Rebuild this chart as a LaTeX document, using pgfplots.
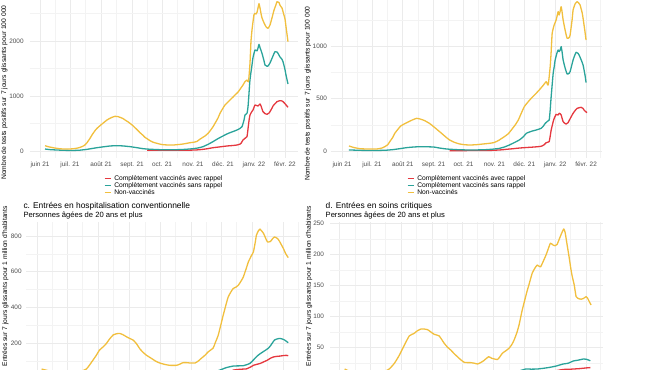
\documentclass[border=0pt]{standalone}
\usepackage{fontspec}
\setmainfont{Liberation Sans}
\usepackage{pgfplots}
\pgfplotsset{compat=1.18}
\definecolor{cred}{HTML}{E5383F}
\definecolor{cteal}{HTML}{2AA39A}
\definecolor{cyel}{HTML}{F1BF3E}
\definecolor{gridc}{HTML}{EBEBEB}
\definecolor{tickc}{HTML}{4D4D4D}
\newcommand{\legfont}{\fontsize{6.7}{7}\selectfont}
\pgfplotsset{
  panel/.style={
    scale only axis, no markers,
    axis line style={draw=none}, tick style={draw=none},
    major tick length=0pt, minor tick length=0pt,
    grid=both,
    major grid style={color=gridc, line width=0.55pt},
    minor grid style={color=gridc!60, line width=0.35pt},
    xtick={0,30,61,92,122,153,183,214,245},
    minor xtick={15,45,76,107,137,168,198,229,259},
    tick label style={font=\fontsize{6.4}{7}\selectfont, text=tickc},
    /pgf/number format/assume math mode=true,
    /pgf/number format/1000 sep={},
    every axis plot/.append style={line width=1.3pt, smooth, tension=0.3, line join=round},
  },
  toplab/.style={xticklabels={juin 21,juil. 21,août 21,sept. 21,oct. 21,nov. 21,déc. 21,janv. 22,févr. 22}},
  leg/.style={
    legend cell align=left,
    legend image code/.code={\draw[##1, line width=1.3pt] (0pt,0pt) -- (6.5pt,0pt);},
    legend style={at={(#1,-0.1037)}, anchor=north west, draw=none, fill=none,
      inner sep=0pt, outer sep=0pt, font=\legfont,
      row sep=0pt, column sep=2.1pt,
      nodes={font=\legfont, scale=1, inner sep=0.35pt, text height=4.9pt, text depth=1.4pt}},
  },
}
\begin{document}
\begin{tikzpicture}[x=1pt,y=1pt]
\useasboundingbox (0,0) rectangle (657,370);
\clip (0,0) rectangle (657,370);

% ---------- a. top-left ----------
\begin{axis}[panel, toplab, leg=0.2775,
  at={(29.5pt,212pt)}, anchor=south west, width=268.5pt, height=164pt,
  xmin=-10.5, xmax=258, ymin=-127.3, ymax=2854.5,
  ytick={0,1000,2000}, minor ytick={500,1500,2500},
  yticklabel style={xshift=-2.4pt}]
\addplot[cred] coordinates {(107,12) (127,12) (147,14) (155,18) (160,24) (167,40) (173,60) (180,75) (187,91) (193,100) (197,109) (200,125) (201,139) (203,200) (205,230) (207,261) (208,400) (209,550) (210,655) (212,720) (213,745) (215,836) (217,825) (218,818) (220,855) (221,820) (223,715) (225,680) (227,667) (229,690) (230,715) (232,780) (233,818) (235,860) (237,897) (240,915) (242,910) (243,897) (245,860) (248,794)};
\addlegendentry{\legfont Complètement vaccinés avec rappel}
\addplot[cteal] coordinates {(5,36) (10,25) (17,18) (25,12) (33,10) (40,15) (47,30) (52,45) (57,60) (63,75) (70,91) (77,97) (83,92) (90,79) (97,60) (103,42) (110,32) (120,24) (130,22) (137,24) (145,30) (153,42) (158,55) (163,79) (168,120) (173,170) (178,225) (183,273) (187,310) (190,333) (194,360) (197,382) (200,410) (202,442) (204,560) (205,655) (207,685) (208,800) (209,1048) (210,1300) (212,1564) (213,1700) (215,1836) (217,1820) (218,1870) (219,1939) (220,1880) (222,1776) (224,1640) (225,1564) (227,1540) (228,1545) (230,1600) (232,1685) (234,1770) (235,1806) (237,1800) (238,1776) (240,1710) (242,1667) (243,1624) (245,1480) (246,1380) (248,1218)};
\addlegendentry{\legfont Complètement vaccinés sans rappel}
\addplot[cyel] coordinates {(5,96) (9,75) (13,60) (18,45) (23,36) (28,36) (33,40) (38,55) (42,79) (45,110) (47,151) (50,230) (52,291) (55,370) (57,412) (60,460) (62,491) (65,535) (67,564) (70,595) (72,612) (75,630) (78,625) (80,612) (83,590) (85,564) (88,530) (90,503) (93,460) (95,424) (98,370) (100,333) (103,285) (105,248) (108,212) (110,188) (113,160) (117,139) (120,125) (123,115) (127,110) (130,109) (134,110) (137,115) (140,120) (143,127) (147,140) (150,151) (154,160) (157,175) (160,215) (163,250) (165,273) (168,320) (170,364) (173,440) (175,503) (178,600) (180,685) (183,780) (185,836) (188,890) (190,927) (193,980) (195,1018) (198,1070) (200,1121) (203,1200) (205,1261) (207,1290) (208.5,1260) (210,1600) (211,2000) (212,2200) (213,2350) (214,2480) (215,2503) (216,2490) (217,2520) (218,2600) (219,2680) (220,2600) (221,2500) (222,2420) (224,2330) (226,2260) (228,2230) (230,2290) (232,2420) (234,2560) (236,2660) (237,2715) (239,2700) (240,2650) (242,2600) (243,2535) (245,2400) (246,2260) (248,1987)};
\addlegendentry{\legfont Non-vaccinés}
\end{axis}

% ---------- b. top-right ----------
\begin{axis}[panel, toplab, leg=0.2818,
  at={(330.5pt,212pt)}, anchor=south west, width=271.5pt, height=164pt,
  xmin=-11.5, xmax=261, ymin=-66.7, ymax=1495,
  ytick={0,500,1000}, minor ytick={250,750,1250}]
\addplot[cred] coordinates {(108,3) (130,4) (150,6) (160,11) (165,16) (172,22) (178,28) (185,33) (193,38) (200,45) (203,60) (205,79) (207,85) (208,89) (209,140) (210,200) (212,279) (213,310) (215,349) (217,343) (218,359) (219,355) (220,343) (222,279) (224,262) (225,257) (227,270) (228,289) (230,325) (232,359) (234,385) (236,406) (238,412) (240,416) (242,405) (243,390) (245,372) (246,365)};
\addlegendentry{\legfont Complètement vaccinés avec rappel}
\addplot[cteal] coordinates {(7,10) (20,6) (35,5) (45,8) (52,14) (58,22) (65,32) (72,38) (78,41) (85,40) (92,38) (98,28) (105,19) (115,13) (125,10) (135,10) (145,13) (152,18) (158,25) (163,38) (168,57) (173,80) (178,105) (182,135) (185,168) (188,180) (191,190) (195,200) (200,216) (202,235) (204,263) (206,280) (208,295) (209,390) (210,520) (212,740) (213,800) (214,867) (216,940) (217,962) (218,946) (219,960) (220,994) (221,940) (222,867) (224,790) (226,733) (228,740) (229,756) (231,830) (232,867) (234,920) (235,940) (237,930) (238,914) (240,870) (242,819) (244,720) (245,651)};
\addlegendentry{\legfont Complètement vaccinés sans rappel}
\addplot[cyel] coordinates {(7,48) (12,33) (18,22) (25,19) (35,19) (40,28) (43,41) (46,60) (48,89) (51,130) (53,168) (56,205) (59,238) (63,260) (67,279) (71,297) (75,311) (79,303) (83,289) (88,262) (92,232) (96,200) (100,168) (104,135) (108,105) (113,82) (118,67) (123,60) (128,57) (135,60) (142,67) (148,73) (152,79) (155,90) (158,105) (160,118) (163,136) (167,165) (170,200) (174,250) (177,295) (180,360) (183,422) (187,470) (190,502) (194,540) (198,581) (202,625) (205,660) (207,629) (209,803) (210,950) (211,1121) (213,1200) (215,1248) (217,1327) (218,1295) (219,1330) (220,1374) (221,1320) (222,1248) (224,1150) (226,1073) (228,1080) (229,1105) (231,1250) (232,1343) (234,1400) (236,1422) (238,1405) (239,1390) (241,1320) (242,1264) (244,1130) (245,1057)};
\addlegendentry{\legfont Non-vaccinés}
\end{axis}

% ---------- c. bottom-left ----------
\begin{axis}[panel, xticklabels={},
  at={(26pt,-15pt)}, anchor=south west, width=274pt, height=163pt,
  xmin=-10.93, xmax=261.3, ymin=-35.3, ymax=878.9,
  ytick={200,400,600,800}, extra y ticks={0}, extra y tick labels={},
  minor ytick={100,300,500,700},
  yticklabel style={xshift=-0.9pt}]
\addplot[cred] coordinates {(100,4) (130,5) (160,8) (175,15) (185,25) (190,35) (195,48) (200,52) (205,54) (208,55) (212,65) (215,75) (218,80) (222,86) (225,94) (228.6,103) (232,115) (235,122) (238,125) (241.6,127) (245,130) (247.6,131) (249.6,129)};
\addplot[cteal] coordinates {(4.6,20) (20,15) (40,14) (60,18) (80,22) (100,20) (120,16) (140,17) (155,22) (165,28) (172,35) (180,45) (188,62) (195,71) (200,72) (205,73) (208,78) (211.6,86) (215,105) (218,123) (220,133) (223,145) (226,156) (229.6,170) (232,185) (234,202) (236,217) (238,222) (241,226) (243,224) (246,217) (249.6,202)};
\addplot[cyel] coordinates {(4.6,54) (9.6,47) (15,40) (22,35) (30,33) (38,35) (44,42) (49,54) (52,75) (55.6,104) (59,132) (62,160) (66,180) (69,198) (72,222) (75.6,245) (79,252) (82,254) (85,248) (89,235) (92,226) (95.7,216) (99,195) (102,169) (105,150) (108.6,132) (112,120) (115,109) (118,98) (122,88) (127,80) (132,75) (138.6,75) (142,82) (145,90) (149,90) (152,88) (157,88) (160,98) (163,113) (167,132) (170,150) (175,172) (177,200) (180,243) (183,310) (185,356) (188,420) (190,459) (193,490) (195,506) (198,515) (200,524) (203,550) (205,571) (208,620) (210,655) (213,690) (215,711) (217,770) (218,805) (220,830) (221.6,839) (223,830) (225,816) (227,790) (229,767) (232,770) (234,785) (236,795) (239,786) (241,770) (243,749) (245,728) (247,702) (249.6,679)};
\end{axis}

% ---------- d. bottom-right ----------
\begin{axis}[panel, xticklabels={},
  at={(330pt,-15pt)}, anchor=south west, width=273pt, height=163pt,
  xmin=-9.6, xmax=261.6, ymin=-9.97, ymax=252.1,
  ytick={50,100,150,200,250}, extra y ticks={0}, extra y tick labels={},
  minor ytick={25,75,125,175,225},
  yticklabel style={xshift=-2.5pt}]
\addplot[cred] coordinates {(100,1) (140,2) (170,4) (190,7) (205,10) (215,13) (222,15) (230,15.5) (238.5,16.4) (245,17.5) (249,18)};
\addplot[cteal] coordinates {(5,5) (30,4) (60,6) (80,8) (100,7) (120,5) (140,5) (155,7) (165,9) (175,11) (184.7,15.7) (190,15.5) (196,15.7) (203,17) (209,18.5) (215,20.5) (222,23.8) (227,25) (232,28.6) (237,30) (242,31.8) (245,31.5) (249,29)};
\addplot[cyel] coordinates {(5,15.7) (10,12) (20,9) (30,8) (40,10) (45,12) (49.4,16) (54.4,25) (59.3,38) (64.2,54) (69.2,69) (74,73) (77,77) (80.7,80) (84,80) (87.3,79) (90,76) (93.9,71.5) (98.8,69) (103.9,57) (107,51) (110.5,46) (114,40) (117,35.5) (120,31) (123.7,26.5) (127,26) (130,26) (134,25) (137,23.8) (140,26) (143,29) (148,35.5) (151,33) (153.4,32) (156.7,31) (159,35) (161.6,41) (165,45) (168.2,49) (171,55) (173.2,62) (176,74) (178.2,86.5) (181,108) (183,121) (186,140) (188,151) (191.3,170) (194,178) (196.3,183) (198,181) (199.6,180) (202,188) (205,199) (207,208) (209.4,218) (212,215) (214,214) (216,216) (217.4,221.5) (220,232) (222.6,241) (224,235) (226,215) (228,195) (229.6,177.6) (231,165) (233,151) (234.9,132) (237,129) (239.9,128) (242,129) (244.8,132) (246.5,129) (248,124) (249.8,118.6)};
\end{axis}

% ---------- texts ----------
\node[rotate=90, anchor=west, inner sep=0pt, font=\fontsize{6.7}{8}\selectfont] at (4.5,190) {Nombre de tests positifs sur 7 jours glissants pour 100 000};
\node[rotate=90, anchor=west, inner sep=0pt, font=\fontsize{6.7}{8}\selectfont] at (308,189) {Nombre de tests positifs sur 7 jours glissants pour 100 000};
\node[rotate=90, anchor=east, inner sep=0pt, font=\fontsize{6.7}{8}\selectfont] at (5.3,164) {Entrées sur 7 jours glissants pour 1 million d'habitants};
\node[rotate=90, anchor=east, inner sep=0pt, font=\fontsize{6.7}{8}\selectfont] at (309,164) {Entrées sur 7 jours glissants pour 1 million d'habitants};
\node[anchor=base west, inner sep=0pt, font=\fontsize{8.4}{10}\selectfont] at (23.3,161.5) {c. Entrées en hospitalisation conventionnelle};
\node[anchor=base west, inner sep=0pt, font=\fontsize{7.6}{9}\selectfont] at (23.3,152) {Personnes âgées de 20 ans et plus};
\node[anchor=base west, inner sep=0pt, font=\fontsize{8.4}{10}\selectfont] at (325.5,161.5) {d. Entrées en soins critiques};
\node[anchor=base west, inner sep=0pt, font=\fontsize{7.6}{9}\selectfont] at (325.5,152) {Personnes âgées de 20 ans et plus};
\end{tikzpicture}
\end{document}
